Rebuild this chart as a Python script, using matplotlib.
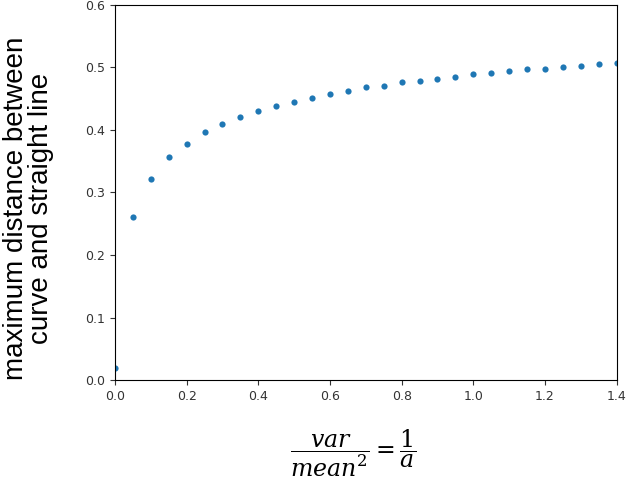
import matplotlib
matplotlib.use("Agg")
import matplotlib.pyplot as plt

# ratio var/mean^2 = 1/a, sampled every 0.05
ratio = [0.00, 0.05, 0.10, 0.15, 0.20, 0.25, 0.30, 0.35, 0.40, 0.45,
         0.50, 0.55, 0.60, 0.65, 0.70, 0.75, 0.80, 0.85, 0.90, 0.95,
         1.00, 1.05, 1.10, 1.15, 1.20, 1.25, 1.30, 1.35, 1.40]
# max distance between curve and straight line
max_dist = [0.019, 0.260, 0.321, 0.356, 0.378, 0.396, 0.409, 0.421, 0.430, 0.438,
            0.445, 0.451, 0.458, 0.463, 0.468, 0.471, 0.476, 0.479, 0.482, 0.485,
            0.489, 0.491, 0.494, 0.497, 0.498, 0.500, 0.503, 0.505, 0.507]

plt.rcParams['mathtext.fontset'] = 'dejavuserif'

fig = plt.figure(figsize=(6.28, 4.83), dpi=100)
ax = fig.add_axes([0.183, 0.213, 0.799, 0.777])

ax.scatter(ratio, max_dist, s=20, color='#1f77b4', linewidths=0)

ax.set_xlim(0, 1.4)
ax.set_ylim(0, 0.6)
ax.set_xticks([0.0, 0.2, 0.4, 0.6, 0.8, 1.0, 1.2, 1.4])
ax.set_yticks([0.0, 0.1, 0.2, 0.3, 0.4, 0.5, 0.6])
ax.tick_params(labelsize=9, colors='#333333')

# y label pasted on as a separate two-line text
fig.text(0.045, 0.569, 'maximum distance between\ncurve and straight line',
         family='Liberation Sans', fontsize=20, linespacing=0.95,
         rotation=90, ha='center', va='center')

fig.text(0.562, 0.062, r'$\dfrac{var}{mean^2} = \dfrac{1}{a}$', fontsize=17,
         ha='center', va='center')

fig.savefig('out.png', dpi=100)
